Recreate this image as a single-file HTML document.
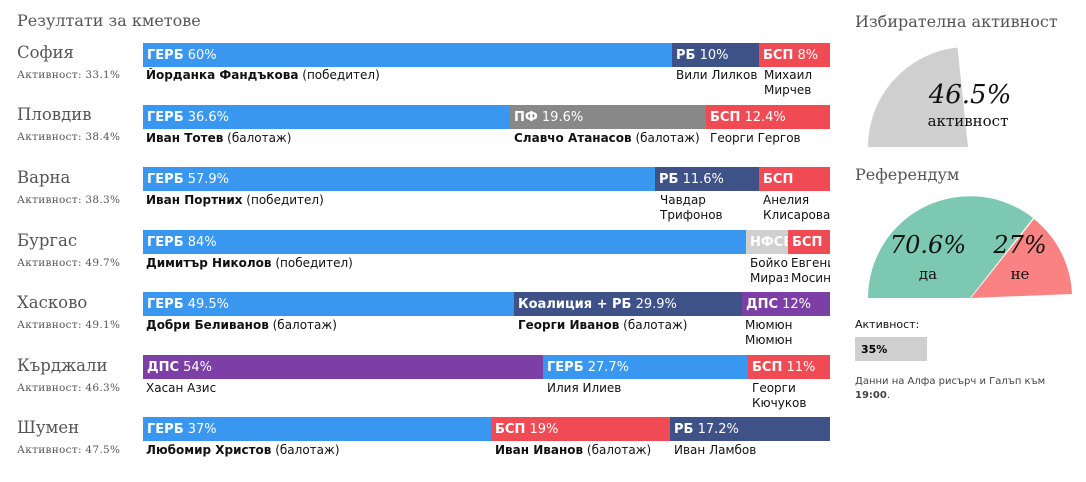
<!DOCTYPE html>
<html><head><meta charset="utf-8"><style>
body{margin:0;width:1086px;height:482px;background:#fff;position:relative;overflow:hidden;font-family:"DejaVu Sans","Liberation Sans",sans-serif}
.a{position:absolute;white-space:nowrap}
.t{font-family:"DejaVu Serif","Liberation Serif",serif;color:#555;font-size:16.5px}
.act{font-family:"DejaVu Serif","Liberation Serif",serif;color:#555;font-size:10.5px;letter-spacing:0.3px}
.seg{position:absolute;height:24px;color:#fff;font-size:13px;line-height:25px;padding-left:4px;box-sizing:border-box;overflow:hidden;white-space:nowrap}
.seg b{font-weight:bold}
.n{position:absolute;font-size:12px;color:#111;line-height:15px;overflow:hidden}
.g{background:#3a97ef}.r{background:#f04a55}.d{background:#3f5287}.p{background:#888}.l{background:#d0d0d0}.v{background:#7b3fa6}
</style></head><body>
<div class="a t" style="left:17px;top:11px;font-size:16px">Резултати за кметове</div>

<div class="a t" style="left:17px;top:43px">София</div><div class="a act" style="left:17px;top:69px">Активност: 33.1%</div>
<div class="seg g" style="left:143px;top:43px;width:529px"><b>ГЕРБ</b> 60%</div>
<div class="seg d" style="left:672px;top:43px;width:87px"><b>РБ</b> 10%</div>
<div class="seg r" style="left:759px;top:43px;width:71px"><b>БСП</b> 8%</div>
<div class="n" style="left:146px;top:68px"><b>Йорданка Фандъкова</b> (победител)</div>
<div class="n" style="left:676px;top:68px">Вили Лилков</div>
<div class="n" style="left:764px;top:68px;width:66px">Михаил<br>Мирчев</div>

<div class="a t" style="left:17px;top:105px">Пловдив</div><div class="a act" style="left:17px;top:131px">Активност: 38.4%</div>
<div class="seg g" style="left:143px;top:105px;width:367px"><b>ГЕРБ</b> 36.6%</div>
<div class="seg p" style="left:510px;top:105px;width:196px"><b>ПФ</b> 19.6%</div>
<div class="seg r" style="left:706px;top:105px;width:124px"><b>БСП</b> 12.4%</div>
<div class="n" style="left:146px;top:131px"><b>Иван Тотев</b> (балотаж)</div>
<div class="n" style="left:514px;top:131px"><b>Славчо Атанасов</b> (балотаж)</div>
<div class="n" style="left:710px;top:131px">Георги Гергов</div>

<div class="a t" style="left:17px;top:168px">Варна</div><div class="a act" style="left:17px;top:194px">Активност: 38.3%</div>
<div class="seg g" style="left:143px;top:167px;width:512px"><b>ГЕРБ</b> 57.9%</div>
<div class="seg d" style="left:655px;top:167px;width:104px"><b>РБ</b> 11.6%</div>
<div class="seg r" style="left:759px;top:167px;width:71px"><b>БСП</b></div>
<div class="n" style="left:146px;top:193px"><b>Иван Портних</b> (победител)</div>
<div class="n" style="left:660px;top:193px">Чавдар<br>Трифонов</div>
<div class="n" style="left:763px;top:193px;width:67px">Анелия<br>Клисарова</div>

<div class="a t" style="left:17px;top:231px">Бургас</div><div class="a act" style="left:17px;top:257px">Активност: 49.7%</div>
<div class="seg g" style="left:143px;top:230px;width:603px"><b>ГЕРБ</b> 84%</div>
<div class="seg l" style="left:746px;top:230px;width:42px"><b>НФСБ</b></div>
<div class="seg r" style="left:788px;top:230px;width:42px"><b>БСП</b></div>
<div class="n" style="left:146px;top:256px"><b>Димитър Николов</b> (победител)</div>
<div class="n" style="left:750px;top:256px;width:38px">Бойко<br>Миразчиев</div>
<div class="n" style="left:791px;top:256px;width:39px">Евгени<br>Мосинов</div>

<div class="a t" style="left:17px;top:293px">Хасково</div><div class="a act" style="left:17px;top:319px">Активност: 49.1%</div>
<div class="seg g" style="left:143px;top:292px;width:371px"><b>ГЕРБ</b> 49.5%</div>
<div class="seg d" style="left:514px;top:292px;width:228px"><b>Коалиция + РБ</b> 29.9%</div>
<div class="seg v" style="left:742px;top:292px;width:88px"><b>ДПС</b> 12%</div>
<div class="n" style="left:146px;top:318px"><b>Добри Беливанов</b> (балотаж)</div>
<div class="n" style="left:518px;top:318px"><b>Георги Иванов</b> (балотаж)</div>
<div class="n" style="left:745px;top:318px">Мюмюн<br>Мюмюн</div>

<div class="a t" style="left:17px;top:356px">Кърджали</div><div class="a act" style="left:17px;top:382px">Активност: 46.3%</div>
<div class="seg v" style="left:143px;top:355px;width:400px"><b>ДПС</b> 54%</div>
<div class="seg g" style="left:543px;top:355px;width:205px"><b>ГЕРБ</b> 27.7%</div>
<div class="seg r" style="left:748px;top:355px;width:82px"><b>БСП</b> 11%</div>
<div class="n" style="left:146px;top:381px">Хасан Азис</div>
<div class="n" style="left:547px;top:381px">Илия Илиев</div>
<div class="n" style="left:752px;top:381px">Георги<br>Кючуков</div>

<div class="a t" style="left:17px;top:418px">Шумен</div><div class="a act" style="left:17px;top:444px">Активност: 47.5%</div>
<div class="seg g" style="left:143px;top:417px;width:348px"><b>ГЕРБ</b> 37%</div>
<div class="seg r" style="left:491px;top:417px;width:179px"><b>БСП</b> 19%</div>
<div class="seg d" style="left:670px;top:417px;width:160px"><b>РБ</b> 17.2%</div>
<div class="n" style="left:146px;top:443px"><b>Любомир Христов</b> (балотаж)</div>
<div class="n" style="left:495px;top:443px"><b>Иван Иванов</b> (балотаж)</div>
<div class="n" style="left:674px;top:443px">Иван Ламбов</div>

<div class="a t" style="left:855px;top:12px;font-size:16px">Избирателна активност</div>
<svg class="a" style="left:0;top:0" width="1086" height="482">
<path d="M968,147 L868,147 A100,100 0 0 1 957.5,47.5 Z" fill="#cfcfcf"/>
<path d="M970,298 L868,298 A102,102 0 0 1 1033,218 Z" fill="#7dc8b0"/>
<path d="M971,298 L1034,219 A102,102 0 0 1 1072,294 Z" fill="#fb8283"/>
<text x="970" y="103" text-anchor="middle" font-family="DejaVu Serif,serif" font-style="italic" font-size="26" fill="#111">46.5%</text>
<text x="968" y="126" text-anchor="middle" font-family="DejaVu Serif,serif" font-size="15" fill="#111">активност</text>
<text x="928" y="253" text-anchor="middle" font-family="DejaVu Serif,serif" font-style="italic" font-size="24" fill="#111">70.6%</text>
<text x="928" y="279" text-anchor="middle" font-family="DejaVu Serif,serif" font-size="15" fill="#111">да</text>
<text x="1020" y="253" text-anchor="middle" font-family="DejaVu Serif,serif" font-style="italic" font-size="24" fill="#111">27%</text>
<text x="1020" y="279" text-anchor="middle" font-family="DejaVu Serif,serif" font-size="15" fill="#111">не</text>
</svg>
<div class="a t" style="left:855px;top:165px;font-size:16px">Референдум</div>
<div class="a" style="left:855px;top:318px;font-size:11px;color:#111">Активност:</div>
<div class="a" style="left:855px;top:337px;width:72px;height:24px;background:#cfcfcf;font-size:11px;font-weight:bold;line-height:25px;padding-left:6px;box-sizing:border-box">35%</div>
<div class="a" style="left:855px;top:375px;font-size:10px;color:#444;line-height:14px">Данни на Алфа рисърч и Галъп към<br><b>19:00</b>.</div>
</body></html>
